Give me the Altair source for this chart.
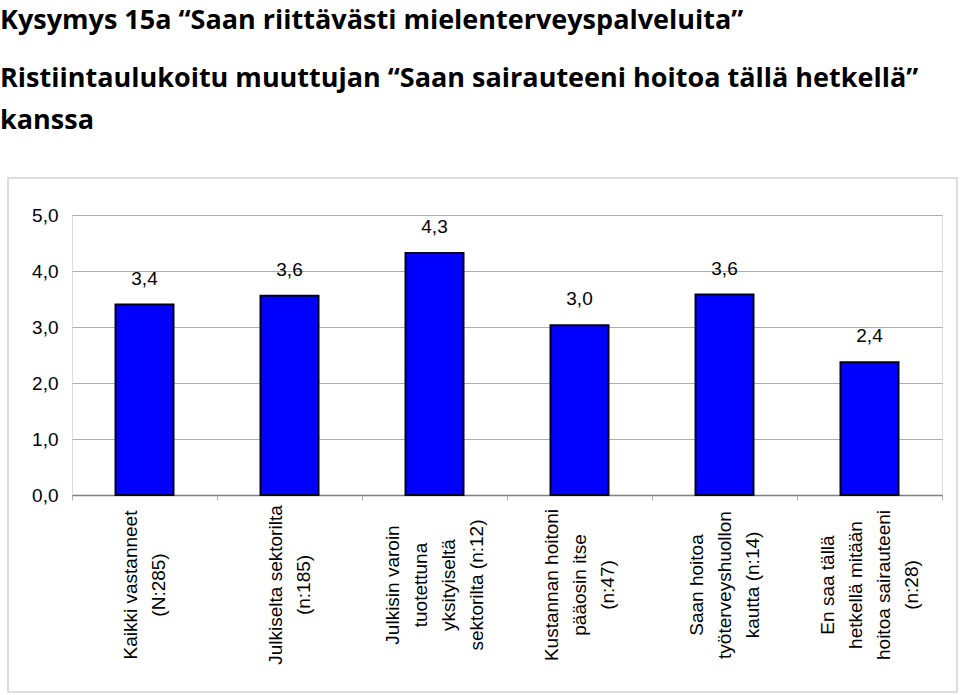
import altair as alt
import pandas as pd

categories = [
    "Kaikki vastanneet|(N:285)",
    "Julkiselta sektorilta|(n:185)",
    "Julkisin varoin|tuotettuna|yksityiseltä|sektorilta (n:12)",
    "Kustannan hoitoni|pääosin itse|(n:47)",
    "Saan hoitoa|työterveyshuollon|kautta (n:14)",
    "En saa tällä|hetkellä mitään|hoitoa sairauteeni|(n:28)",
]
values = [3.40, 3.56, 4.32, 3.03, 3.58, 2.37]
y_ticks = [0, 1, 2, 3, 4, 5]

TITLE = ["Kysymys 15a “Saan riittävästi mielenterveyspalveluita”"]
SUBTITLE = [
    "Ristiintaulukoitu muuttujan “Saan sairauteeni hoitoa tällä hetkellä”",
    "kanssa",
]

df = pd.DataFrame({"cat": categories, "value": values})
df["nlines"] = df["cat"].str.count(r"\|") + 1

LINE_H = 28

x_enc = alt.X(
    "cat:N",
    sort=None,
    scale=alt.Scale(paddingInner=0, paddingOuter=0),
    axis=alt.Axis(
        title=None,
        labels=False,
        tickBand="extent",
        tickSize=5,
        tickColor="#b0b0b0",
        domainColor="#808080",
        domainWidth=1.5,
        grid=False,
    ),
)

y_enc = alt.Y(
    "value:Q",
    scale=alt.Scale(domain=[0, 5], nice=False),
    axis=alt.Axis(
        title=None,
        values=y_ticks,
        labelExpr="replace(format(datum.value, '.1f'), '.', ',')",
        labelFont="Liberation Sans",
        labelFontSize=19,
        labelColor="black",
        labelPadding=14,
        ticks=False,
        domain=False,
        grid=True,
        gridColor="#a8a8d8",
        gridWidth=1,
    ),
)

frame = alt.Chart(alt.Data(values=[{"a": 1}])).mark_rect(
    fill=None, stroke="#d4d4d4", strokeWidth=1.5
).encode(
    x=alt.value(-64), x2=alt.value(885), y=alt.value(-37), y2=alt.value(477)
)

bars = alt.Chart(df).mark_bar(
    color="#0000FF", stroke="#000022", strokeWidth=2,
    width=alt.RelativeBandSize(0.4),
).encode(x=x_enc, y=y_enc)

value_labels = alt.Chart(df).transform_calculate(
    lab="replace(format(datum.value, '.1f'), '.', ',')"
).mark_text(
    font="Liberation Sans", fontSize=19, color="black", baseline="middle", dy=-26
).encode(x=alt.X("cat:N", sort=None), y="value:Q", text="lab:N")

cat_layers = []
for n in sorted(df["nlines"].unique()):
    cat_layers.append(
        alt.Chart(df)
        .transform_filter(alt.datum.nlines == int(n))
        .mark_text(
            font="Liberation Sans",
            fontSize=19,
            color="black",
            angle=270,
            align="center",
            baseline="middle",
            lineBreak="|",
            lineHeight=LINE_H,
            dy=-(int(n) - 1) * LINE_H / 2,
        )
        .encode(x=alt.X("cat:N", sort=None), y=alt.value(370), text="cat:N")
    )

chart = alt.layer(frame, bars, value_labels, *cat_layers).properties(
    width=870,
    height=280,
    autosize=alt.AutoSizeParams(type="none"),
    padding={"left": 72, "top": 215, "right": 18, "bottom": 200},
    title=alt.TitleParams(
        text=TITLE,
        subtitle=SUBTITLE,
        anchor="start",
        frame="group",
        dx=-72,
        offset=42,
        font="Open Sans",
        fontSize=27,
        fontWeight="bold",
        color="black",
        subtitleFont="Open Sans",
        subtitleFontSize=27,
        subtitleFontWeight="bold",
        subtitleColor="black",
        subtitleLineHeight=42,
        subtitlePadding=31,
    ),
).configure_view(
    fill="#CCCCFF", stroke="#808080", strokeWidth=1.5
).configure(background="white")

chart.save("out.html", embed_options={"renderer": "svg", "actions": False})
